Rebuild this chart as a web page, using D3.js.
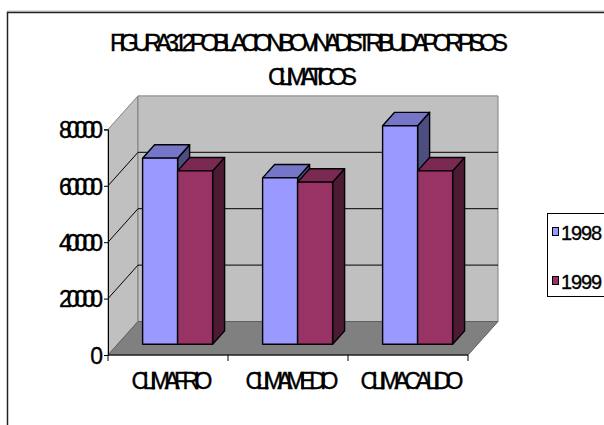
<!DOCTYPE html>
<html>
<head>
<meta charset="utf-8">
<script src="https://cdn.jsdelivr.net/npm/d3@7"></script>
<style>
  html, body { margin: 0; padding: 0; background: #fff; }
  svg { display: block; }
  text { font-family: "Liberation Sans", Arimo, Arial, sans-serif; fill: #000; stroke: #000; stroke-width: 0.35px; }
</style>
</head>
<body>
<svg id="chart" width="604" height="425"></svg>
<script>
// Cattle population by climate zone, 1998 vs 1999
const categories = ["CLIMA FRIO", "CLIMA MEDIO", "CLIMA CALIDO"];
const seriesNames = ["1998", "1999"];
const values1998 = [66000, 59000, 77500];
const values1999 = [61500, 57500, 61500];
const yTicks = [0, 20000, 40000, 60000, 80000];
const titleLines = ["FIGURA 3.12  POBLACION BOVINA DISTRIBUIDA POR PISOS", "CLIMATICOS"];

(function () {
const seriesValues = [values1998, values1999];
const faceColors = [
  { front: "#9999ff", top: "#7676c8", side: "#4d4d80" },
  { front: "#993366", top: "#7a2952", side: "#4d1a33" }
];

const svg = d3.select("#chart");

// outer frame
svg.append("rect").attr("x", 7.5).attr("y", 12.5).attr("width", 640).attr("height", 440)
  .attr("fill", "none").attr("stroke", "#222").attr("stroke-width", 1.5);
svg.append("line").attr("x1", 7).attr("x2", 604).attr("y1", 11.2).attr("y2", 11.2)
  .attr("stroke", "#999").attr("stroke-width", 1);

// plot geometry (front plane) and oblique depth offset
const plotLeft = 108, plotRight = 468, plotBottom = 355, plotTop = 129.4;
const DX = 30, DY = 33.5;

const y = d3.scaleLinear().domain([0, 80000]).range([plotBottom, plotTop]);
const x = d3.scaleBand().domain(categories).range([plotLeft, plotRight])
  .paddingInner(50 / 120).paddingOuter(25 / 120);
const xs = d3.scaleBand().domain(seriesNames).range([0, x.bandwidth()]);

const P = (px, v, d) => [px + DX * d, y(v) - DY * d];
const poly = pts => "M" + pts.map(p => p.join(",")).join("L") + "Z";

const walls = svg.append("g");
const yMax = y.domain()[1];
// left wall
walls.append("path")
  .attr("d", poly([P(plotLeft, 0, 0), P(plotLeft, yMax, 0), P(plotLeft, yMax, 1), P(plotLeft, 0, 1)]))
  .attr("fill", "#c0c0c0").attr("stroke", "#808080").attr("stroke-width", 1);
// back wall
walls.append("path")
  .attr("d", poly([P(plotLeft, 0, 1), P(plotLeft, yMax, 1), P(plotRight, yMax, 1), P(plotRight, 0, 1)]))
  .attr("fill", "#c0c0c0").attr("stroke", "#808080").attr("stroke-width", 1);
// floor
walls.append("path")
  .attr("d", poly([P(plotLeft, 0, 0), P(plotRight, 0, 0), P(plotRight, 0, 1), P(plotLeft, 0, 1)]))
  .attr("fill", "#808080").attr("stroke", "#606060").attr("stroke-width", 1);

// gridlines across left and back walls
const grid = yTicks.filter(t => t > 0 && t < yMax);
grid.forEach(t => {
  const a = P(plotLeft, t, 0), b = P(plotLeft, t, 1), c = P(plotRight, t, 1);
  walls.append("path").attr("d", "M" + a + "L" + b + "L" + c)
    .attr("fill", "none").attr("stroke", "#000").attr("stroke-width", 1);
});

// bars
const d0 = 0.32, d1 = 0.72;
const bars = svg.append("g");
categories.forEach((cat, i) => {
  seriesNames.forEach((s, j) => {
    const v = seriesValues[j][i];
    const x0 = x(cat) + xs(s), x1 = x0 + xs.bandwidth();
    const c = faceColors[j];
    const g = bars.append("g").attr("stroke", "#000").attr("stroke-width", 1.4)
      .attr("stroke-linejoin", "round");
    g.append("path").attr("fill", c.side)
      .attr("d", poly([P(x1, 0, d0), P(x1, v, d0), P(x1, v, d1), P(x1, 0, d1)]));
    g.append("path").attr("fill", c.top)
      .attr("d", poly([P(x0, v, d0), P(x1, v, d0), P(x1, v, d1), P(x0, v, d1)]));
    g.append("path").attr("fill", c.front)
      .attr("d", poly([P(x0, 0, d0), P(x1, 0, d0), P(x1, v, d0), P(x0, v, d0)]));
  });
});

// y axis
const yAxis = svg.append("g").attr("transform", `translate(${plotLeft},0)`)
  .call(d3.axisLeft(y).tickValues(yTicks).tickSize(4).tickPadding(1).tickFormat(d3.format("d")));
yAxis.select(".domain").attr("stroke", "#000");
yAxis.selectAll(".tick line").attr("stroke", "#000");
yAxis.selectAll("text")
  .style("font-size", "23px")
  .attr("dy", "0.36em")
  .each(function (d) {
    const s = String(d);
    if (s.length > 1) d3.select(this).attr("textLength", 44).attr("lengthAdjust", "spacing");
  });

// x axis: front floor edge with boundary ticks
svg.append("line").attr("x1", plotLeft).attr("x2", plotRight).attr("y1", plotBottom).attr("y2", plotBottom)
  .attr("stroke", "#000").attr("stroke-width", 1);
const half = (x.step() - x.bandwidth()) / 2;
const bounds = categories.map(c => x(c) - half)
  .concat([x(categories[categories.length - 1]) + x.bandwidth() + half]);
svg.append("g").selectAll("line").data(bounds).join("line")
  .attr("x1", d => d).attr("x2", d => d).attr("y1", plotBottom).attr("y2", plotBottom + 6)
  .attr("stroke", "#000");
const xLabelLen = [81, 93, 103];
svg.append("g").selectAll("text").data(categories).join("text")
  .attr("x", d => x(d) + x.bandwidth() / 2 + 4)
  .attr("y", 389)
  .attr("text-anchor", "middle")
  .style("font-size", "23px")
  .attr("textLength", (d, i) => xLabelLen[i]).attr("lengthAdjust", "spacing")
  .text(d => d);

// title
const titleLen = [398, 89];
svg.append("g").selectAll("text").data(titleLines).join("text")
  .attr("x", (d, i) => i === 0 ? 309 : 312.5)
  .attr("y", (d, i) => i === 0 ? 51 : 85)
  .attr("text-anchor", "middle")
  .style("font-size", "24px")
  .attr("textLength", (d, i) => titleLen[i]).attr("lengthAdjust", "spacing")
  .text(d => d);

// legend
const legend = svg.append("g");
legend.append("rect").attr("x", 547.5).attr("y", 213.5).attr("width", 80).attr("height", 83)
  .attr("fill", "#fff").attr("stroke", "#000").attr("stroke-width", 1);
const ly = d3.scalePoint().domain(seriesNames).range([232, 281]);
seriesNames.forEach((s, j) => {
  legend.append("rect").attr("x", 552.5).attr("y", ly(s) - 4.5).attr("width", 6).attr("height", 8)
    .attr("fill", faceColors[j].front).attr("stroke", "#000").attr("stroke-width", 1);
  legend.append("text").attr("x", 561).attr("y", ly(s) + 7.5)
    .style("font-size", "20px").attr("textLength", 41).attr("lengthAdjust", "spacing")
    .text(s);
});
})();
</script>
</body>
</html>
